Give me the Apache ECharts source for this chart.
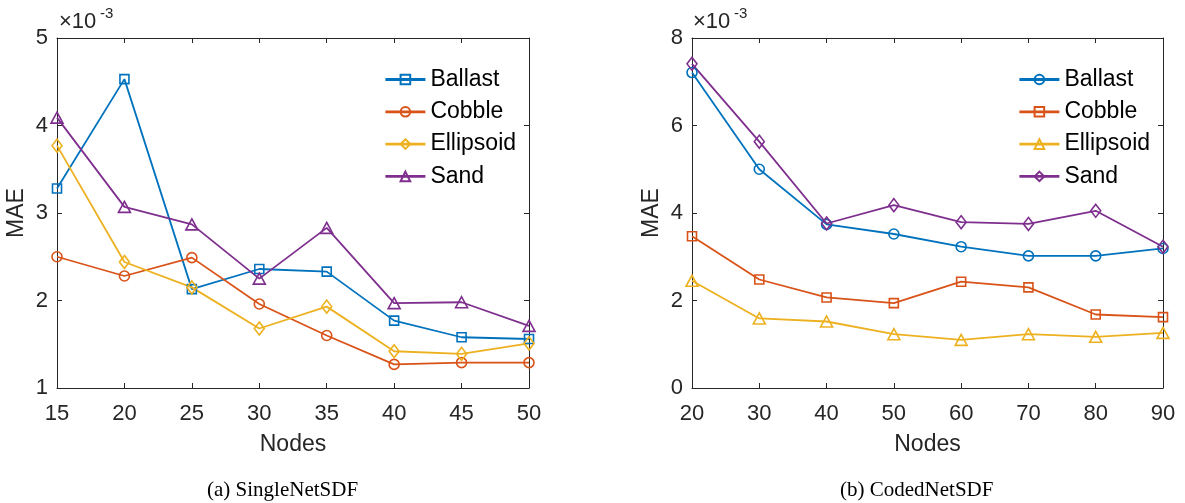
<!DOCTYPE html>
<html>
<head>
<meta charset="utf-8">
<script src="https://cdn.jsdelivr.net/npm/echarts@6/dist/echarts.min.js"></script>
<style>
html,body{margin:0;padding:0;background:#fff;}
#main{width:1185px;height:503px;}
</style>
</head>
<body>
<div id="main"></div>
<script>
// ---- data (MAE in units of 1e-3) ----
const nodesA = [15, 20, 25, 30, 35, 40, 45, 50];
const ballastA = [3.28, 4.53, 2.13, 2.36, 2.33, 1.77, 1.58, 1.56];
const cobbleA = [2.50, 2.28, 2.49, 1.96, 1.60, 1.27, 1.29, 1.29];
const ellipsoidA = [3.77, 2.44, 2.15, 1.68, 1.93, 1.42, 1.39, 1.51];
const sandA = [4.09, 3.07, 2.87, 2.25, 2.83, 1.97, 1.98, 1.71];

const nodesB = [20, 30, 40, 50, 60, 70, 80, 90];
const ballastB = [7.21, 5.00, 3.74, 3.52, 3.23, 3.02, 3.02, 3.19];
const cobbleB = [3.47, 2.48, 2.07, 1.94, 2.43, 2.30, 1.68, 1.62];
const ellipsoidB = [2.45, 1.59, 1.52, 1.23, 1.10, 1.23, 1.17, 1.26];
const sandB = [7.41, 5.63, 3.76, 4.18, 3.79, 3.75, 4.05, 3.23];

const names = ['Ballast', 'Cobble', 'Ellipsoid', 'Sand'];
const yTicksA = [1, 2, 3, 4, 5];
const yTicksB = [0, 2, 4, 6, 8];
const captions = ['(a) SingleNetSDF', '(b) CodedNetSDF'];
const expBase = '×10';
const expPow = '-3';

const colors = ['#0072BD', '#D95319', '#EDB120', '#7E2F8E'];
const symA = [['rect', 9], ['circle', 10], ['diamond', [10, 13]], ['triangle', [12, 11]]];
const symB = [['circle', 10], ['rect', 9], ['triangle', [12, 11]], ['diamond', [10, 13]]];
const FONT = 'Liberation Sans, Arial, Helvetica, sans-serif';
const AX = '#262626';

function pairs(xs, ys) { return xs.map((x, i) => [x, ys[i]]); }

function mkSeries(xs, arrs, syms, gi, suffix) {
  return arrs.map((ys, i) => ({
    name: names[i] + suffix,
    type: 'line',
    xAxisIndex: gi, yAxisIndex: gi,
    data: pairs(xs, ys),
    symbol: syms[i][0],
    symbolSize: syms[i][1],
    showAllSymbol: true,
    lineStyle: { color: colors[i], width: 1.8 },
    itemStyle: { color: 'rgba(255,255,255,0)', borderColor: colors[i], borderWidth: 1.6 },
    emphasis: { disabled: true },
    animation: false,
    z: 2
  }));
}

function mainX(gi, min, max, interval) {
  return {
    type: 'value', gridIndex: gi, min: min, max: max, interval: interval,
    position: 'bottom',
    name: 'Nodes', nameLocation: 'middle', nameGap: 45,
    nameTextStyle: { fontSize: 23, color: AX, fontFamily: FONT },
    axisLine: { show: true, onZero: false, lineStyle: { color: AX, width: 1 } },
    axisTick: { show: true, inside: true, length: 5, lineStyle: { color: AX } },
    axisLabel: { fontSize: 22, color: AX, fontFamily: FONT, margin: 15 },
    splitLine: { show: false }
  };
}
function boxX(gi, min, max, interval) {
  return {
    type: 'value', gridIndex: gi, min: min, max: max, interval: interval,
    position: 'top',
    axisLine: { show: true, onZero: false, lineStyle: { color: AX, width: 1 } },
    axisTick: { show: true, inside: true, length: 5, lineStyle: { color: AX } },
    axisLabel: { show: false }, splitLine: { show: false }
  };
}
function mainY(gi, ticks, gap) {
  return {
    type: 'value', gridIndex: gi, min: ticks[0], max: ticks[ticks.length - 1],
    interval: ticks[1] - ticks[0], position: 'left',
    name: 'MAE', nameLocation: 'middle', nameGap: gap, nameRotate: 90,
    nameTextStyle: { fontSize: 23, color: AX, fontFamily: FONT },
    axisLine: { show: true, onZero: false, lineStyle: { color: AX, width: 1 } },
    axisTick: { show: true, inside: true, length: 5, lineStyle: { color: AX } },
    axisLabel: { fontSize: 22, color: AX, fontFamily: FONT, margin: 9 },
    splitLine: { show: false }
  };
}
function boxY(gi, ticks) {
  return {
    type: 'value', gridIndex: gi, min: ticks[0], max: ticks[ticks.length - 1],
    interval: ticks[1] - ticks[0], position: 'right',
    axisLine: { show: true, onZero: false, lineStyle: { color: AX, width: 1 } },
    axisTick: { show: true, inside: true, length: 5, lineStyle: { color: AX } },
    axisLabel: { show: false }, splitLine: { show: false }
  };
}

function legend(left, suffix) {
  return {
    orient: 'vertical', left: left, top: 68, padding: 0,
    itemWidth: 40, itemHeight: 12, itemGap: 9.3,
    selectedMode: false,
    data: names.map(n => n + suffix),
    formatter: n => n.replace(suffix, ''),
    textStyle: { fontSize: 23, lineHeight: 22, color: '#000', fontFamily: FONT },
    lineStyle: { width: 2.8 }
  };
}

function txt(left, top, text, size, color, family) {
  return {
    left: left, top: top, padding: 0, text: text,
    textStyle: { fontSize: size, fontWeight: 'normal', color: color, fontFamily: family }
  };
}

const SERIF = 'Liberation Serif, Times New Roman, serif';
const chart = echarts.init(document.getElementById('main'), null, { renderer: 'canvas' });
chart.setOption({
  animation: false,
  backgroundColor: '#fff',
  title: [
    txt(59, 11, expBase, 22, AX, FONT), txt(100, 6, expPow, 15, AX, FONT),
    txt(693, 11, expBase, 22, AX, FONT), txt(734, 6, expPow, 15, AX, FONT),
    txt(207, 480, captions[0], 21, '#000', SERIF), txt(840, 480, captions[1], 21, '#000', SERIF)
  ],
  legend: [legend(384, ''), legend(1018, ' (b)')],
  grid: [
    { left: 57, top: 38, width: 472, height: 350 },
    { left: 692, top: 38, width: 471, height: 350 }
  ],
  xAxis: [mainX(0, 15, 50, 5), mainX(1, 20, 90, 10), boxX(0, 15, 50, 5), boxX(1, 20, 90, 10)],
  yAxis: [mainY(0, yTicksA, 29), mainY(1, yTicksB, 29), boxY(0, yTicksA), boxY(1, yTicksB)],
  series: [].concat(
    mkSeries(nodesA, [ballastA, cobbleA, ellipsoidA, sandA], symA, 0, ''),
    mkSeries(nodesB, [ballastB, cobbleB, ellipsoidB, sandB], symB, 1, ' (b)')
  )
});
</script>
</body>
</html>
